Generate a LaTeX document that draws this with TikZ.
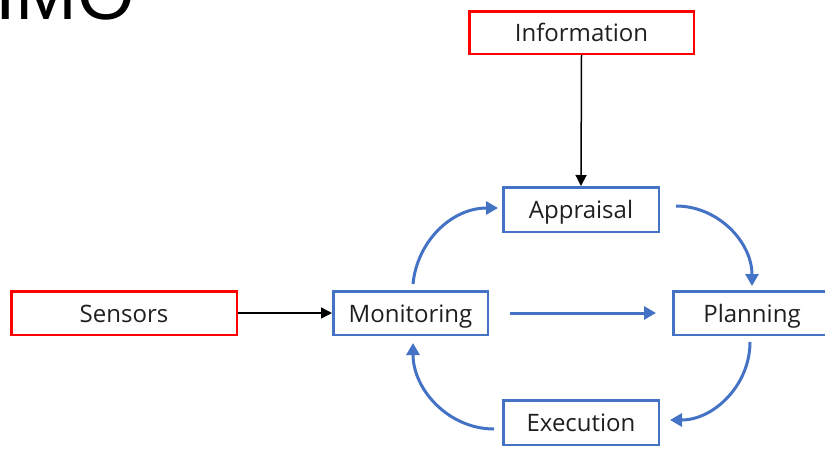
\documentclass[tikz,border=0pt]{standalone}
\usepackage{fontspec}
\setmainfont{Open Sans}
\newfontfamily\bigfont{Liberation Sans}
\usetikzlibrary{arrows.meta}
\definecolor{boxblue}{HTML}{4472C4}
\definecolor{boxred}{HTML}{FF0000}
\begin{document}
\begin{tikzpicture}[x=1pt,y=-1pt,
  box/.style={draw, line width=2.5pt, inner sep=0pt, font=\fontsize{24}{28}\selectfont, text=black!88, text height=18pt, text depth=0pt},
  bluebox/.style={box, draw=boxblue},
  redbox/.style={box, draw=boxred},
  blk/.style={line width=1.5pt, -{Triangle[length=11pt,width=11pt]}},
  blu/.style={line width=3pt, draw=boxblue, -{Triangle[length=12pt,width=13pt]}, boxblue},
]
\useasboundingbox (0,0) rectangle (825,448);
\clip (0,0) rectangle (825,448);
\node[anchor=base west, inner sep=0pt, font=\bigfont\fontsize{74}{74}\selectfont] (title) at (-5,19) {IMO};
\node[redbox, minimum width=224.5pt, minimum height=42.5pt] (info) at (581.5,32.5) {Information};
\node[bluebox, minimum width=155.5pt, minimum height=44.5pt] (appr) at (581,209.5) {Appraisal};
\node[redbox, minimum width=225.5pt, minimum height=43.5pt] (sens) at (124,313) {Sensors};
\node[bluebox, minimum width=154.5pt, minimum height=43.5pt] (moni) at (410.5,313) {Monitoring};
\node[bluebox, minimum width=157.5pt, minimum height=43.5pt] (plan) at (752,313) {Planning};
\node[bluebox, minimum width=155.5pt, minimum height=44.5pt] (exec) at (581,422.5) {Execution};
\draw[blk] (info.south) -- (appr.north);
\draw[blk] (sens.east) -- (moni.west);
\coordinate (mp1) at (510,313);
\coordinate (mp2) at (656,313);
\draw[blu] (mp1) -- (mp2);
\coordinate (ma1) at (413,284);
\coordinate (ma2) at (498,208);
\draw[blu] (ma1) .. controls (417,242) and (451,208) .. (ma2);
\coordinate (ap1) at (676,206);
\coordinate (ap2) at (752,286);
\draw[blu] (ap1) .. controls (718,206) and (752,242) .. (ap2);
\coordinate (pe1) at (750,342);
\coordinate (pe2) at (670,420);
\draw[blu] (pe1) .. controls (750,385) and (714,420) .. (pe2);
\coordinate (em1) at (494,429);
\coordinate (em2) at (413,343);
\draw[blu] (em1) .. controls (449,429) and (413,390) .. (em2);
\end{tikzpicture}
\end{document}
